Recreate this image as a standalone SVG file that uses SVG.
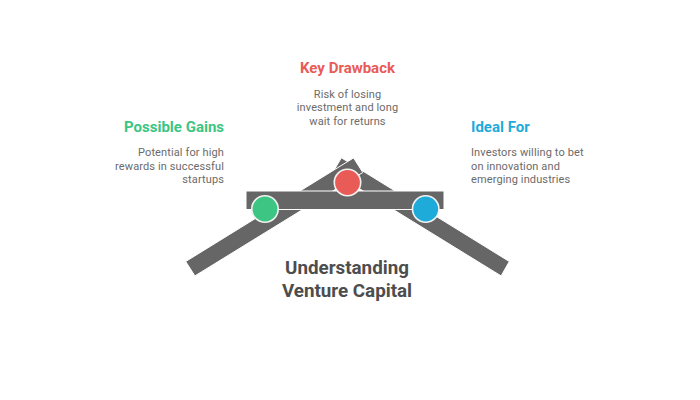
<svg xmlns="http://www.w3.org/2000/svg" width="700" height="400" viewBox="0 0 700 400">
<style>
text{font-family:Roboto,"Liberation Sans",sans-serif}
.h{font-size:15px;font-weight:700}
.b{font-size:11px;fill:#6b6b6b;letter-spacing:.12px}
.t{font-size:18.8px;font-weight:700;fill:#4d4d4d;text-anchor:middle}
.e{text-anchor:end}.m{text-anchor:middle}
.s{fill:#666;stroke:#fff;stroke-width:1}
.c{stroke:#f2f2f2;stroke-width:1.6}
</style>
<rect width="700" height="400" fill="#fff"/>
<g id="connectors">
<polygon points="509.300,261.500 341.400,157.800 332.800,172.300 501.100,275.900" class="s"/>
<polygon points="185.700,261.500 353.600,157.900 362.800,172.500 194.900,275.900" class="s"/>
<rect x="246" y="191" width="198" height="18.500" class="s"/>
</g>
<g id="node-gains">
<circle cx="265" cy="209" r="13.2" fill="#3cc583" class="c"/>
<text x="224" y="132" class="h e" fill="#3cc583">Possible Gains</text>
<text x="224" y="156" class="b e">Potential for high</text>
<text x="224" y="169.500" class="b e">rewards in successful</text>
<text x="224" y="183" class="b e">startups</text>
</g>
<g id="node-drawback">
<circle cx="347.500" cy="182.500" r="13.2" fill="#e85b56" class="c"/>
<text x="347.500" y="73" class="h m" fill="#e85b56">Key Drawback</text>
<text x="347.500" y="97.500" class="b m">Risk of losing</text>
<text x="347.500" y="111" class="b m">investment and long</text>
<text x="347.500" y="124.500" class="b m">wait for returns</text>
</g>
<g id="node-ideal">
<circle cx="425.700" cy="209" r="13.2" fill="#1eabda" class="c"/>
<text x="471" y="132" class="h" fill="#1eabda">Ideal For</text>
<text x="471" y="156" class="b">Investors willing to bet</text>
<text x="471" y="169.500" class="b">on innovation and</text>
<text x="471" y="183" class="b">emerging industries</text>
</g>
<g id="title">
<text x="347" y="274" class="t">Understanding</text>
<text x="347" y="297" class="t">Venture Capital</text>
</g>
</svg>
